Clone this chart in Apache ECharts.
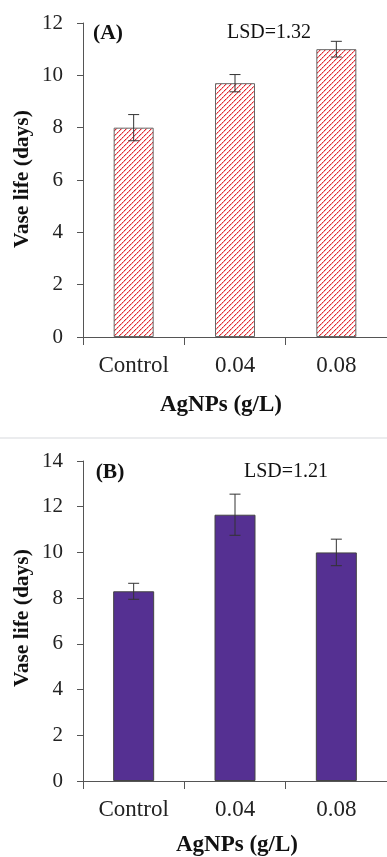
<!DOCTYPE html>
<html>
<head>
<meta charset="utf-8">
<script src="https://cdn.jsdelivr.net/npm/echarts@6/dist/echarts.min.js"></script>
<style>
html,body{margin:0;padding:0;background:#fff;}
#c{width:387px;height:857px;}
</style>
</head>
<body>
<div id="c"></div>
<script>
// ---- data ----
const categories = ['Control', '0.04', '0.08'];
const valuesA = [8.0, 9.7, 11.0];
const errorsA = [0.5, 0.33, 0.3];
const valuesB = [8.3, 11.65, 10.0];
const errorsB = [0.35, 0.9, 0.58];
const yMaxA = 12, yMaxB = 14, yStep = 2;
const xTitle = 'AgNPs (g/L)';
const yTitle = 'Vase life (days)';
const panelLabels = ['(A)', '(B)'];
const lsdLabels = ['LSD=1.32', 'LSD=1.21'];

const FONT = '"Liberation Serif", "Times New Roman", serif';
const AX = '#555';

// hatch pattern for panel A
function makeHatch() {
  const c = document.createElement('canvas');
  c.width = 5; c.height = 5;
  const g = c.getContext('2d');
  g.fillStyle = '#fff'; g.fillRect(0, 0, 5, 5);
  for (let i = 0; i < 5; i++) {
    g.fillStyle = (i % 2 === 0) ? '#e0262f' : '#ee6a70';
    g.fillRect(i, 4 - i, 1, 1);
    g.fillStyle = '#f6b4b7';
    g.fillRect((i + 1) % 5, 4 - i, 1, 1);
  }
  return c;
}
const hatch = makeHatch();

function errData(vals, errs) {
  return vals.map((v, i) => [i, v, errs[i]]);
}
function errRender(params, api) {
  const i = api.value(0), v = api.value(1), e = api.value(2);
  const top = api.coord([i, v + e]);
  const bot = api.coord([i, v - e]);
  const w = 5.5;
  const st = { stroke: '#333', lineWidth: 1 };
  return {
    type: 'group',
    children: [
      { type: 'line', shape: { x1: top[0], y1: top[1], x2: bot[0], y2: bot[1] }, style: st },
      { type: 'line', shape: { x1: top[0] - w, y1: top[1], x2: top[0] + w, y2: top[1] }, style: st },
      { type: 'line', shape: { x1: bot[0] - w, y1: bot[1], x2: bot[0] + w, y2: bot[1] }, style: st }
    ]
  };
}

function xAxis(idx) {
  return {
    type: 'category', gridIndex: idx, data: categories,
    axisLine: { lineStyle: { color: AX, width: 1 } },
    axisTick: { show: true, length: 8, lineStyle: { color: AX } },
    axisLabel: { fontFamily: FONT, fontSize: 23, color: '#222', margin: 17 }
  };
}
function yAxis(idx, max) {
  return {
    type: 'value', gridIndex: idx, min: 0, max: max, interval: yStep,
    splitLine: { show: false },
    axisLine: { show: true, lineStyle: { color: AX, width: 1 } },
    axisTick: { show: true, length: 6, lineStyle: { color: AX } },
    axisLabel: { fontFamily: FONT, fontSize: 21, color: '#222', margin: 20 }
  };
}

const txt = (x, y, s, bold, size, extra) => Object.assign({
  type: 'text', x: x, y: y,
  style: { text: s, fontFamily: FONT, fontSize: size, fontWeight: bold ? 'bold' : 'normal',
           fill: '#111', align: 'center', verticalAlign: 'middle' }
}, extra || {});

const option = {
  animation: false,
  backgroundColor: '#fff',
  grid: [
    { left: 83, top: 23, width: 304, height: 314 },
    { left: 83, top: 461, width: 304, height: 320 }
  ],
  xAxis: [xAxis(0), xAxis(1)],
  yAxis: [yAxis(0, yMaxA), yAxis(1, yMaxB)],
  series: [
    { type: 'bar', xAxisIndex: 0, yAxisIndex: 0, data: valuesA, barWidth: 40,
      itemStyle: { color: { image: hatch, repeat: 'repeat' }, borderColor: '#666', borderWidth: 1 } },
    { type: 'custom', xAxisIndex: 0, yAxisIndex: 0, data: errData(valuesA, errorsA),
      renderItem: errRender, z: 5 },
    { type: 'bar', xAxisIndex: 1, yAxisIndex: 1, data: valuesB, barWidth: 41,
      itemStyle: { color: '#553092', borderColor: '#444', borderWidth: 1 } },
    { type: 'custom', xAxisIndex: 1, yAxisIndex: 1, data: errData(valuesB, errorsB),
      renderItem: errRender, z: 5 }
  ],
  graphic: [
    { type: 'line', shape: { x1: 0, y1: 438, x2: 387, y2: 438 }, style: { stroke: '#e4e6e8', lineWidth: 1.5 } },
    txt(108, 33, panelLabels[0], true, 21.5),
    txt(269, 33, lsdLabels[0], false, 20),
    txt(221, 405, xTitle, true, 23),
    txt(22, 179, yTitle, true, 21.5, { rotation: Math.PI / 2 }),
    txt(110, 472, panelLabels[1], true, 21.5),
    txt(286, 472, lsdLabels[1], false, 20),
    txt(237, 845, xTitle, true, 23),
    txt(22, 618, yTitle, true, 21.5, { rotation: Math.PI / 2 })
  ]
};
echarts.init(document.getElementById('c')).setOption(option);
</script>
</body>
</html>
